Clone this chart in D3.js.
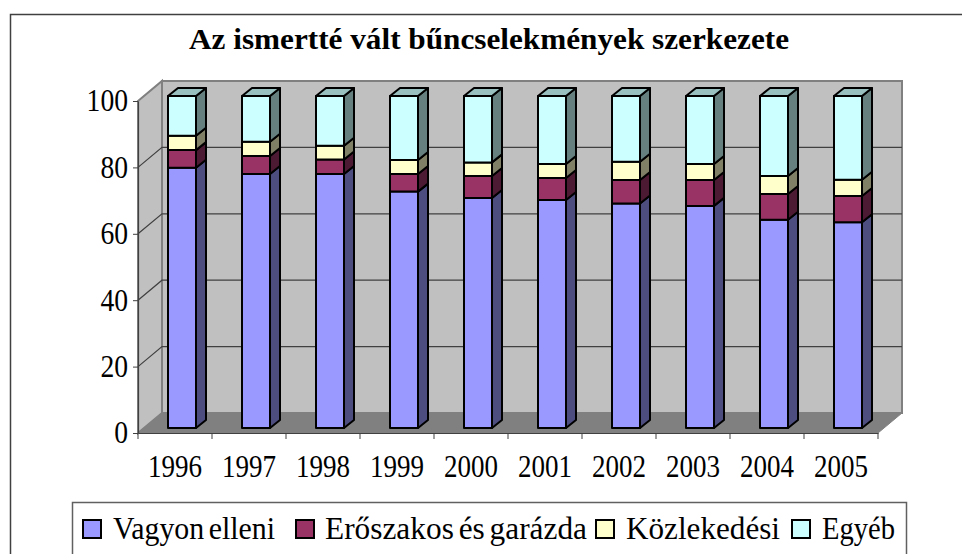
<!DOCTYPE html>
<html>
<head>
<meta charset="utf-8">
<script src="https://cdn.jsdelivr.net/npm/d3@7"></script>
<style>
  body { margin: 0; background: #fff; }
  text { font-family: "Liberation Serif", serif; fill: #000; }
</style>
</head>
<body>
<script>
var years = ["1996", "1997", "1998", "1999", "2000", "2001", "2002", "2003", "2004", "2005"];
var seriesNames = ["Vagyon elleni", "Erőszakos és garázda", "Közlekedési", "Egyéb"];
var vagyon = [78.4, 76.5, 76.5, 71.2, 69.3, 68.7, 67.6, 66.9, 62.7, 62.0];
var eroszakos = [5.3, 5.4, 4.4, 5.3, 6.6, 6.6, 7.1, 7.8, 7.8, 7.9];
var kozlekedesi = [4.3, 4.3, 4.1, 4.2, 4.1, 4.2, 5.5, 4.8, 5.4, 4.9];
var egyeb = [12.0, 13.8, 15.0, 19.3, 20.0, 20.5, 19.8, 20.5, 24.1, 25.2];
var yTicks = [0, 20, 40, 60, 80, 100];

var width = 962,
  height = 554,
  left = 138,
  right = 878,
  bottom = 433,
  top_ = 101,
  depthX = 24,
  depthY = 20,
  barDepthX = 10,
  barDepthY = 8,
  barShiftX = 7,
  barShiftY = 5,
  barWidth = 28;

var faceColors = ["#9999ff", "#993366", "#ffffcc", "#ccffff"];
var sideColors = ["#4d4d80", "#4d1a33", "#808066", "#668080"];
var topColor = "#99bfbf";

var svg = d3
  .select("body")
  .append("svg")
  .attr("width", width)
  .attr("height", height)
  .style("display", "block");

// outer frame runs off the right and bottom of the picture
svg
  .append("path")
  .attr("d", `M10.5,${height} V14.5 H${width}`)
  .attr("fill", "none")
  .attr("stroke", "#404040")
  .attr("stroke-width", 1.5);

svg
  .append("text")
  .attr("x", 189)
  .attr("y", 49)
  .attr("font-size", 29)
  .attr("font-weight", "bold")
  .attr("textLength", 600)
  .attr("lengthAdjust", "spacingAndGlyphs")
  .text("Az ismertté vált bűncselekmények szerkezete");

var xScale = d3.scaleBand().domain(years).range([left, right]);
var yScale = d3.scaleLinear().domain([0, 100]).range([bottom, top_]);

var rows = years.map((y, i) => ({
  year: y,
  a: vagyon[i],
  b: eroszakos[i],
  c: kozlekedesi[i],
  d: egyeb[i]
}));
var stacked = d3.stack().keys(["a", "b", "c", "d"])(rows);

// walls and floor
var line = d3.line();
var wallLeft = [
  [left, yScale(100)],
  [left + depthX, yScale(100) - depthY],
  [left + depthX, bottom - depthY],
  [left, bottom]
];
var wallBack = [
  [left + depthX, yScale(100) - depthY],
  [right + depthX, yScale(100) - depthY],
  [right + depthX, bottom - depthY],
  [left + depthX, bottom - depthY]
];
var floor = [
  [left, bottom],
  [left + depthX, bottom - depthY],
  [right + depthX, bottom - depthY],
  [right, bottom]
];

svg
  .selectAll("path.wall")
  .data([wallLeft, wallBack])
  .enter()
  .append("path")
  .attr("class", "wall")
  .attr("d", (d) => line(d) + "Z")
  .attr("fill", "#c0c0c0")
  .attr("stroke", "#808080")
  .attr("stroke-width", 2);

svg
  .append("path")
  .attr("d", line(floor) + "Z")
  .attr("fill", "#808080")
  .attr("stroke", "#808080");

// gridlines on the side wall and the back wall
var grid = svg.append("g");
grid
  .selectAll("path")
  .data(yTicks.slice(1, -1))
  .enter()
  .append("path")
  .attr("d", (d) =>
    line([
      [left, yScale(d)],
      [left + depthX, yScale(d) - depthY],
      [right + depthX, yScale(d) - depthY]
    ])
  )
  .attr("fill", "none")
  .attr("stroke", "#404040")
  .attr("stroke-width", 1.2);

// bars
var layers = svg
  .selectAll("g.layer")
  .data(stacked)
  .enter()
  .append("g")
  .attr("class", "layer");

var bars = layers
  .selectAll("g")
  .data((s) => s.map((p) => ({ p: p, key: s.index })))
  .enter()
  .append("g")
  .attr("stroke", "#000")
  .attr("stroke-width", 2)
  .attr("stroke-linejoin", "round");

function barX(d) {
  return xScale(d.p.data.year) + (xScale.bandwidth() - barWidth) / 2 + barShiftX;
}
function barY(v) {
  return yScale(v) - barShiftY;
}

bars
  .append("path")
  .attr("fill", (d) => sideColors[d.key])
  .attr("d", (d) => {
    var x = barX(d) + barWidth;
    return (
      line([
        [x, barY(d.p[0])],
        [x + barDepthX, barY(d.p[0]) - barDepthY],
        [x + barDepthX, barY(d.p[1]) - barDepthY],
        [x, barY(d.p[1])]
      ]) + "Z"
    );
  });

bars
  .append("rect")
  .attr("fill", (d) => faceColors[d.key])
  .attr("x", barX)
  .attr("y", (d) => barY(d.p[1]))
  .attr("width", barWidth)
  .attr("height", (d) => barY(d.p[0]) - barY(d.p[1]));

bars
  .filter((d) => d.key == 3)
  .append("path")
  .attr("fill", topColor)
  .attr("d", (d) => {
    var x = barX(d),
      y = barY(d.p[1]);
    return (
      line([
        [x, y],
        [x + barDepthX, y - barDepthY],
        [x + barWidth + barDepthX, y - barDepthY],
        [x + barWidth, y]
      ]) + "Z"
    );
  });

// axes
var yAxis = d3.axisLeft(yScale).tickValues(yTicks).tickSize(5).tickSizeOuter(0).tickPadding(5);
var yG = svg.append("g").attr("transform", `translate(${left},0)`).call(yAxis);
yG.selectAll("text")
  .attr("font-size", 31)
  .attr("font-family", "Liberation Serif")
  .attr("textLength", (d) => String(d).length * 13.8)
  .attr("lengthAdjust", "spacingAndGlyphs");

var xAxis = d3.axisBottom(xScale).tickSize(0).tickSizeOuter(0).tickPadding(22);
var xG = svg.append("g").attr("transform", `translate(0,${bottom})`).call(xAxis);
xG.selectAll("text")
  .attr("font-size", 31)
  .attr("font-family", "Liberation Serif")
  .attr("textLength", 54)
  .attr("lengthAdjust", "spacingAndGlyphs");
// category ticks sit between the bars
svg
  .append("g")
  .selectAll("line")
  .data(years.concat(["end"]))
  .enter()
  .append("line")
  .attr("x1", (d) => (d == "end" ? right : xScale(d)))
  .attr("x2", (d) => (d == "end" ? right : xScale(d)))
  .attr("y1", bottom)
  .attr("y2", bottom + 6)
  .attr("stroke", "#404040");
svg.selectAll(".domain").attr("stroke", "#404040").attr("stroke-width", 1.2);
svg.selectAll(".tick line").attr("stroke", "#404040");

// legend
var legend = svg.append("g");
legend
  .append("path")
  .attr("d", "M906.5,554 V502.5 H72.5 V554")
  .attr("fill", "#fff")
  .attr("stroke", "#606060")
  .attr("stroke-width", 1.5);

var legendSwatchX = [83, 296, 596, 792];
var legendTextX = [113, 325, 626, 822];
var legendTextLen = [162, 262, 154, 73];

var item = legend
  .selectAll("g")
  .data(seriesNames)
  .enter()
  .append("g");
item
  .append("rect")
  .attr("x", (d, i) => legendSwatchX[i])
  .attr("y", 520)
  .attr("width", 18)
  .attr("height", 18)
  .attr("fill", (d, i) => faceColors[i])
  .attr("stroke", "#000")
  .attr("stroke-width", 2);
item
  .append("text")
  .attr("x", (d, i) => legendTextX[i])
  .attr("y", 539)
  .attr("font-size", 31)
  .attr("word-spacing", -3)
  .attr("textLength", (d, i) => legendTextLen[i])
  .attr("lengthAdjust", "spacingAndGlyphs")
  .text((d) => d);
</script>
</body>
</html>
